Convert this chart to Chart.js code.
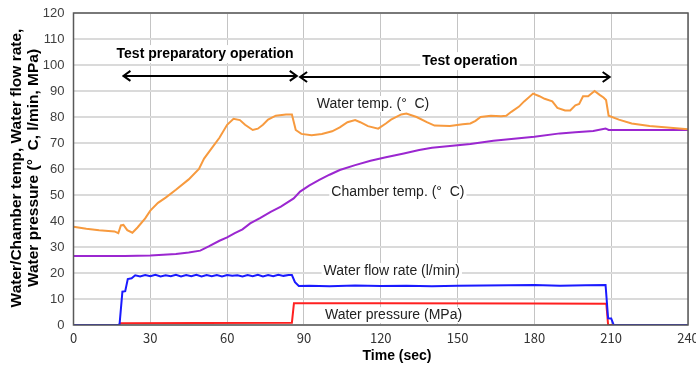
<!DOCTYPE html>
<html>
<head>
<meta charset="utf-8">
<script src="https://cdn.jsdelivr.net/npm/chart.js@4/dist/chart.umd.min.js"></script>
<style>
  html, body { margin: 0; padding: 0; background: #fff; }
  #wrap { width: 696px; height: 365px; }
</style>
</head>
<body>
<div id="wrap"><canvas id="chart" width="696" height="365"></canvas></div>
<script>
// ---- data (time in sec) ----
const waterTempTime = [0, 5, 10, 16, 17.5, 18.5, 19.5, 21, 23, 25, 28, 30, 33, 36, 40, 45, 49, 51, 54, 57, 60, 62.5, 65, 67, 70, 72, 74, 76, 79, 83, 85.3, 86.8, 89, 93, 97, 101, 104, 107, 110, 112, 115, 119, 122, 124, 128, 130, 134, 138, 141, 147, 152, 155, 157, 159, 163, 167, 169, 171, 174, 176, 179.5, 182, 184, 187, 189, 192, 194, 196, 197.5, 199, 201, 203.5, 205.5, 207, 208, 209, 213, 218, 225, 232, 240];
const waterTemp = [37.8, 37, 36.4, 36, 35.3, 38.3, 38.5, 36.5, 35.5, 37.5, 41, 44, 47, 49, 52, 56, 60, 64, 68, 72, 77, 79.3, 78.8, 77, 75, 75.5, 77, 79, 80.5, 81, 81, 75, 73.5, 73, 73.5, 74.5, 76, 78, 78.8, 78, 76.5, 75.5, 77.5, 79, 81, 81.3, 80, 78, 76.7, 76.5, 77.2, 77.5, 78.5, 80, 80.5, 80.3, 80.5, 82, 84, 86, 89, 88, 87, 86, 83.5, 82.5, 82.5, 84.5, 85, 88, 88, 90, 88.5, 87.5, 86.5, 80.5, 79, 77.5, 76.5, 76, 75.3];

const chamberTime = [0, 20, 30, 40, 45, 49.5, 53, 57, 60, 63, 66, 69, 73, 77, 81, 86, 88.5, 92, 96, 100, 104, 110, 116, 122, 129, 135, 140, 148, 155, 164, 172, 180, 190, 196, 203, 207.8, 209, 220, 240];
const chamberTemp = [26.5, 26.5, 26.7, 27.3, 27.9, 28.6, 30.3, 32.4, 33.7, 35.3, 36.8, 39.1, 41.2, 43.5, 45.5, 48.7, 51.3, 53.6, 55.8, 57.8, 59.6, 61.5, 63.2, 64.5, 66, 67.3, 68.2, 68.9, 69.6, 70.9, 71.6, 72.4, 73.7, 74.1, 74.6, 75.6, 75, 75, 75];

const flowTime = [0, 17.5, 18, 19.1, 20.2, 21.2, 22.7, 24.1, 26, 28, 30, 32, 34, 36, 38, 40, 42, 44, 46, 48, 50, 52, 54, 56, 58, 60, 62, 64, 66, 68, 70, 72, 74, 76, 78, 80, 82, 84, 85.3, 86.5, 88, 92, 100, 110, 120, 130, 140, 150, 160, 170, 180, 190, 200, 207.8, 208.8, 210, 211, 240];
const flowRate = [0, 0, 0.4, 12.8, 13, 17.7, 18, 19.1, 18.7, 19.2, 18.8, 19.3, 18.7, 19.1, 18.8, 19.3, 18.7, 19.2, 18.8, 19.3, 18.7, 19.2, 18.8, 19.2, 18.7, 19.2, 18.9, 19.1, 18.7, 19.2, 18.8, 19.3, 18.7, 19.2, 18.8, 19.3, 18.9, 19.2, 19.2, 16.5, 15, 15.1, 14.9, 15.2, 15, 15.1, 14.9, 15.1, 15.2, 15.3, 15.4, 15.1, 15.3, 15.4, 2.6, 2.5, 0, 0];

const pressureTime = [0, 17.8, 18.3, 50, 85.3, 86.1, 120, 180, 208.1, 208.8, 240];
const waterPressure = [0, 0, 0.7, 0.8, 0.9, 8.4, 8.4, 8.3, 8.2, 0, 0];

const xTicks = [0, 30, 60, 90, 120, 150, 180, 210, 240];
const yTicks = [0, 10, 20, 30, 40, 50, 60, 70, 80, 90, 100, 110, 120];

const toPoints = (xs, ys) => xs.map((x, i) => ({ x: x, y: ys[i] }));

// text placed in data coordinates
const seriesLabels = [
  { text: 'Water temp. (°  C)', t: 117, v: 85 },
  { text: 'Chamber temp. (°  C)', t: 126.7, v: 51.2 },
  { text: 'Water flow rate (l/min)', t: 124.3, v: 20.8 },
  { text: 'Water pressure (MPa)', t: 125, v: 3.8 }
];
const phaseLabels = [
  { text: 'Test preparatory operation', t: 51.4, v: 104.2 },
  { text: 'Test operation', t: 154.8, v: 101.5 }
];
const phaseArrows = [
  { from: 19.5, to: 87.2, v: 95.8 },
  { from: 88.5, to: 209.4, v: 95.4 }
];

const FONT = '"Liberation Sans", Arial, sans-serif';

const overlay = {
  id: 'overlay',
  beforeDraw(chart) {
    const ctx = chart.ctx;
    ctx.save();
    ctx.fillStyle = '#fff';
    ctx.fillRect(0, 0, chart.width, chart.height);
    ctx.restore();
  },
  afterDatasetsDraw(chart) {
    const ctx = chart.ctx;
    const xs = chart.scales.x, ys = chart.scales.y;
    const a = chart.chartArea;
    ctx.save();

    // plot frame
    ctx.strokeStyle = '#595959';
    ctx.lineWidth = 1.5;
    ctx.strokeRect(a.left, a.top, a.right - a.left, a.bottom - a.top);

    // phase arrows
    ctx.strokeStyle = '#000';
    ctx.lineWidth = 2;
    phaseArrows.forEach(ar => {
      const x1 = xs.getPixelForValue(ar.from), x2 = xs.getPixelForValue(ar.to);
      const y = ys.getPixelForValue(ar.v);
      ctx.beginPath();
      ctx.moveTo(x1, y); ctx.lineTo(x2, y);
      ctx.moveTo(x1 + 7, y - 5); ctx.lineTo(x1, y); ctx.lineTo(x1 + 7, y + 5);
      ctx.moveTo(x2 - 7, y - 5); ctx.lineTo(x2, y); ctx.lineTo(x2 - 7, y + 5);
      ctx.stroke();
    });

    ctx.textAlign = 'center';
    ctx.textBaseline = 'middle';

    // phase labels (bold, white box)
    ctx.font = 'bold 14px ' + FONT;
    phaseLabels.forEach(l => {
      const x = xs.getPixelForValue(l.t), y = ys.getPixelForValue(l.v);
      const w = ctx.measureText(l.text).width;
      ctx.fillStyle = '#fff';
      ctx.fillRect(x - w / 2 - 2, y - 9, w + 4, 18);
      ctx.fillStyle = '#000';
      ctx.fillText(l.text, x, y);
    });

    // series labels
    ctx.font = '14px ' + FONT;
    seriesLabels.forEach(l => {
      const x = xs.getPixelForValue(l.t), y = ys.getPixelForValue(l.v);
      const w = ctx.measureText(l.text).width;
      ctx.fillStyle = '#fff';
      ctx.fillRect(x - w / 2 - 2, y - 8, w + 4, 16);
      ctx.fillStyle = '#222';
      ctx.fillText(l.text, x, y);
    });

    // y axis title (two lines, rotated)
    ctx.fillStyle = '#000';
    ctx.font = 'bold 15.5px ' + FONT;
    const cy = 168;
    [['Water/Chamber temp, Water flow rate,', 17], ['Water pressure (°  C, l/min, MPa)', 34]].forEach(([txt, x]) => {
      ctx.save();
      ctx.translate(x, cy);
      ctx.rotate(-Math.PI / 2);
      ctx.fillText(txt, 0, 0);
      ctx.restore();
    });

    // x axis title
    ctx.font = 'bold 14px ' + FONT;
    ctx.fillText('Time (sec)', 397, 356);
    ctx.restore();
  }
};

new Chart(document.getElementById('chart'), {
  type: 'line',
  data: {
    datasets: [
      { label: 'Water temp.', data: toPoints(waterTempTime, waterTemp), borderColor: '#f79a3e', borderWidth: 2 },
      { label: 'Chamber temp.', data: toPoints(chamberTime, chamberTemp), borderColor: '#9b27d0', borderWidth: 2 },
      { label: 'Water flow rate', data: toPoints(flowTime, flowRate), borderColor: '#1a1aff', borderWidth: 2 },
      { label: 'Water pressure', data: toPoints(pressureTime, waterPressure), borderColor: '#ff2020', borderWidth: 2 }
    ]
  },
  options: {
    responsive: false,
    animation: false,
    elements: { point: { radius: 0 }, line: { tension: 0 } },
    layout: { padding: { top: 13, right: 8, left: 0, bottom: 0 } },
    plugins: { legend: { display: false }, tooltip: { enabled: false } },
    scales: {
      x: {
        type: 'linear', min: 0, max: 240,
        afterFit: s => { s.height = 40; s.paddingLeft = 0; s.paddingRight = 0; },
        afterBuildTicks: s => { s.ticks = xTicks.map(v => ({ value: v })); },
        grid: { color: '#c4c4c4', lineWidth: 1, drawTicks: false },
        border: { display: false },
        ticks: { color: '#333', font: { family: '"Noto Sans CJK JP", sans-serif', size: 13 }, padding: 5, maxRotation: 0 }
      },
      y: {
        min: 0, max: 120,
        afterFit: s => { s.width = 73.5; s.paddingTop = 0; s.paddingBottom = 0; },
        afterBuildTicks: s => { s.ticks = yTicks.map(v => ({ value: v })); },
        grid: { color: '#dadada', lineWidth: 2, drawTicks: false },
        border: { display: false },
        ticks: { color: '#404040', font: { family: FONT, size: 13 }, padding: 9 }
      }
    }
  },
  plugins: [overlay]
});
</script>
</body>
</html>
